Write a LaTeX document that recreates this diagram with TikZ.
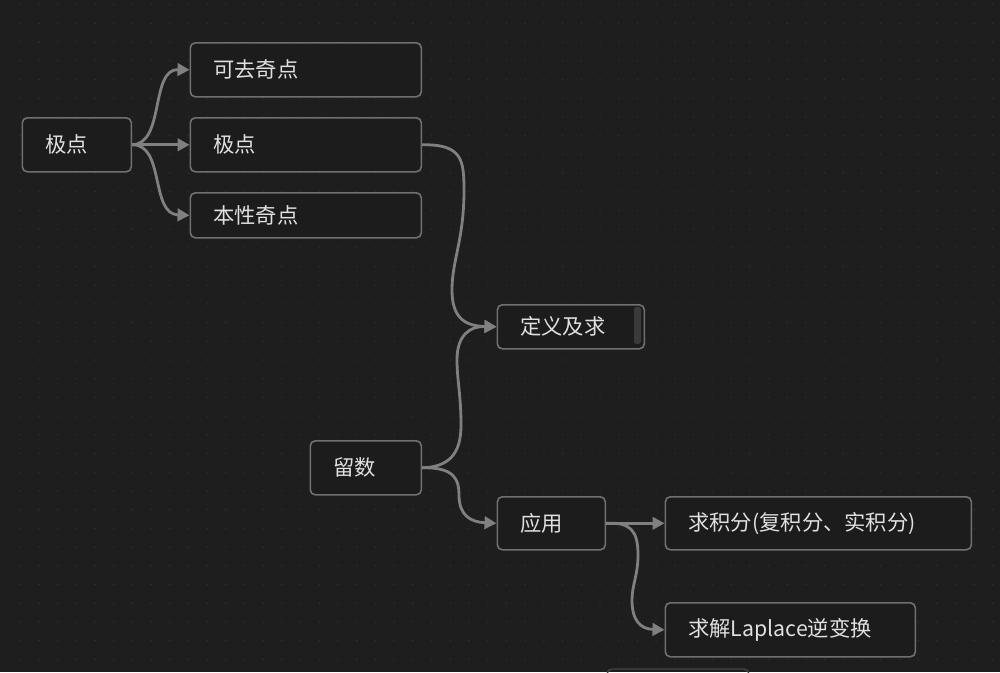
\documentclass[tikz,border=0pt]{standalone}
\usepackage{fontspec}
\setmainfont{Noto Sans CJK SC}
\usetikzlibrary{arrows.meta}
\definecolor{bg}{HTML}{1E1E1E}
\definecolor{dotc}{HTML}{2E2E2E}
\definecolor{nodefill}{HTML}{1C1C1C}
\definecolor{nodeborder}{HTML}{707070}
\definecolor{edgec}{HTML}{808080}
\definecolor{txt}{HTML}{E0E0E0}
\definecolor{scrollc}{HTML}{3A3A3A}
\definecolor{faintbox}{HTML}{454545}
\begin{document}
\begin{tikzpicture}[x=1pt,y=-1pt,
  box/.style={draw=nodeborder, line width=1.6pt, rounded corners=5pt, fill=nodefill,
    anchor=north west, text=txt, font=\fontsize{21.3}{25}\selectfont,
    inner xsep=23pt, inner ysep=0pt, align=left},
  edge/.style={draw=edgec, line width=2.8pt, -{Triangle[length=12pt,width=12.5pt]}}]
\useasboundingbox (0,0) rectangle (1000,672);
\clip (0,0) rectangle (1000,672);
\fill[bg] (0,0) rectangle (1000,672);
% dot grid
\foreach \i in {0,...,53}{
  \foreach \j in {0,...,35}{
    \fill[dotc] ({20.3+18.7*\i},{4.7+18.7*\j}) circle (0.9pt);
  }
}
% nodes
\node[box, minimum width=109pt, minimum height=54pt, text width=63pt] (jd1) at (21.5,117) {极点};
\node[box, minimum width=231pt, minimum height=54pt, text width=185pt] (kq) at (189.5,42) {可去奇点};
\node[box, minimum width=231pt, minimum height=54pt, text width=185pt] (jd2) at (189.5,117) {极点};
\node[box, minimum width=231pt, minimum height=45pt, text width=185pt] (bx) at (189.5,192) {本性奇点};
\node[box, minimum width=147pt, minimum height=44pt, text width=101pt] (dy) at (496.5,304) {定义及求};
\fill[scrollc, rounded corners=2.5pt] (634,307) rectangle (641,344);
\node[box, minimum width=111pt, minimum height=54pt, text width=65pt] (ls) at (309.5,440) {留数};
\node[box, minimum width=108pt, minimum height=53pt, text width=62pt] (yy) at (496.5,496) {应用};
\node[box, minimum width=306pt, minimum height=53pt, text width=260pt] (jf) at (664.5,496) {求积分(复积分、实积分)};
\node[box, minimum width=250pt, minimum height=54pt, text width=204pt] (lp) at (664.5,602) {求解Laplace逆变换};
% partially visible box at the bottom
\draw[faintbox, line width=1.4pt, rounded corners=5pt] (607,700) -- (607,669) -- (749,669) -- (749,700);
% edges
\draw[edge] (jd1.east) .. controls (165,144) and (150,69) .. (kq.west);
\draw[edge] (jd1.east) -- (jd2.west);
\draw[edge] (jd1.east) .. controls (165,144) and (150,214) .. (bx.west);
\draw[edge] (jd2.east) .. controls (462,144) and (464,160) .. (464,190)
  .. controls (464,240) and (452,260) .. (452,290)
  .. controls (452,318) and (465,326) .. (dy.west);
\draw[edge] (ls.east) .. controls (448,467) and (461,455) .. (461,425)
  .. controls (461,395) and (457,380) .. (457,360)
  .. controls (457,335) and (470,326) .. (dy.west);
\draw[edge] (ls.east) .. controls (455,467) and (459,480) .. (459,495)
  .. controls (459,515) and (470,522) .. (yy.west);
\draw[edge] (yy.east) -- (jf.west);
\draw[edge] (yy.east) .. controls (630,522) and (638,530) .. (638,555)
  .. controls (638,575) and (632,585) .. (632,600)
  .. controls (632,620) and (640,629) .. (lp.west);
\end{tikzpicture}
\end{document}
